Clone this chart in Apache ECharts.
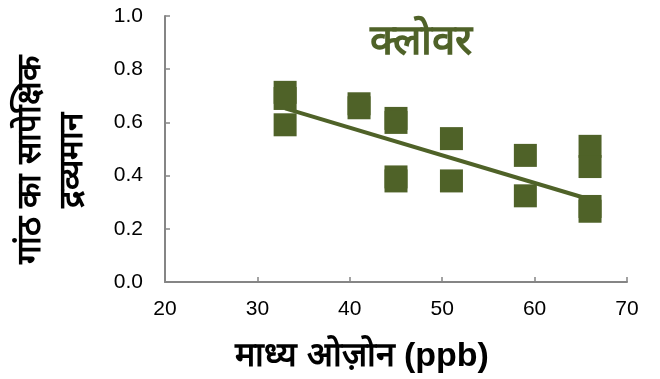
<!DOCTYPE html>
<html>
<head>
<meta charset="utf-8">
<script src="https://cdn.jsdelivr.net/npm/echarts@6/dist/echarts.min.js"></script>
<style>
  html, body { margin: 0; padding: 0; background: #fff; }
  #chart { width: 660px; height: 379px; }
</style>
</head>
<body>
<div id="chart"></div>
<script>
// Mean ozone exposure (ppb) for each observation
const ozone = [33, 33, 33, 41, 41, 45, 45, 45, 45, 51, 51, 59, 59, 66, 66, 66, 66];
// Relative tuber mass for each observation
const relMass = [0.713, 0.69, 0.591, 0.67, 0.655, 0.615, 0.60, 0.395, 0.38, 0.539, 0.38, 0.476, 0.324, 0.51, 0.434, 0.284, 0.266];
// Fitted trend line end points [ozone, relative mass]
const trendX = [33, 66];
const trendY = [0.653, 0.31];

const chartTitle = 'क्लोवर';
const xName = 'माध्य ओज़ोन (ppb)';
const yNameLines = ['गांठ का सापेक्षिक', 'द्रव्यमान'];

const green = '#4f6228';
const axisGrey = '#858585';
const font = '"Liberation Sans", Arial, sans-serif';

const chart = echarts.init(document.getElementById('chart'), null, { renderer: 'canvas' });

chart.setOption({
  animation: false,
  backgroundColor: '#ffffff',
  grid: { left: 165, top: 16, right: 33, bottom: 97, containLabel: false },
  xAxis: {
    type: 'value', min: 20, max: 70, interval: 10,
    axisLine: { show: true, lineStyle: { color: axisGrey, width: 2 } },
    axisTick: { show: true, inside: true, length: 5, lineStyle: { color: axisGrey, width: 1.5 } },
    axisLabel: { color: '#000', fontSize: 21, fontFamily: font, margin: 17 },
    splitLine: { show: false }
  },
  yAxis: {
    type: 'value', min: 0, max: 1, interval: 0.2,
    axisLine: { show: true, lineStyle: { color: axisGrey, width: 2 } },
    axisTick: { show: true, inside: true, length: 5, lineStyle: { color: axisGrey, width: 1.5 } },
    axisLabel: { color: '#000', fontSize: 21, fontFamily: font, margin: 22,
      formatter: v => v.toFixed(1) },
    splitLine: { show: false }
  },
  graphic: [
    {
      type: 'text', x: 421, y: 42,
      style: { text: chartTitle, textAlign: 'center', textVerticalAlign: 'middle',
        fill: green, font: 'bold 42px ' + font }
    },
    {
      type: 'text', x: 362, y: 357,
      style: { text: xName, textAlign: 'center', textVerticalAlign: 'middle',
        fill: '#000', font: 'bold 34px ' + font }
    },
    {
      type: 'text', x: 52, y: 160, rotation: Math.PI / 2,
      style: { text: yNameLines.join('\n'), textAlign: 'center', textVerticalAlign: 'middle',
        fill: '#000', font: 'bold 33px ' + font, lineHeight: 42 }
    }
  ],
  series: [
    {
      type: 'line',
      data: trendX.map((x, i) => [x, trendY[i]]),
      showSymbol: false,
      lineStyle: { color: green, width: 4 },
      z: 2,
      silent: true
    },
    {
      type: 'scatter',
      data: ozone.map((x, i) => [x, relMass[i]]),
      symbol: 'rect',
      symbolSize: [23, 23],
      itemStyle: { color: green, opacity: 1 },
      z: 3
    }
  ]
});
</script>
</body>
</html>
